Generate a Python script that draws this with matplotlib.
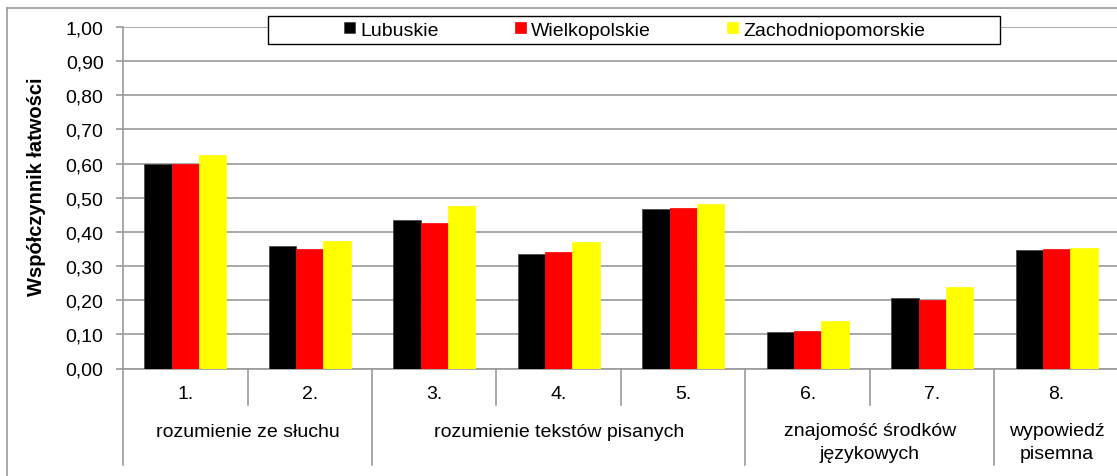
import matplotlib
matplotlib.use("Agg")
import matplotlib.pyplot as plt
import numpy as np
from matplotlib.lines import Line2D
from matplotlib.patches import Rectangle

categories = ["1.", "2.", "3.", "4.", "5.", "6.", "7.", "8."]
lubuskie = [0.60, 0.36, 0.436, 0.336, 0.467, 0.107, 0.207, 0.347]
wielkopolskie = [0.60, 0.351, 0.427, 0.341, 0.471, 0.109, 0.200, 0.351]
zachodniopomorskie = [0.624, 0.372, 0.477, 0.371, 0.482, 0.139, 0.240, 0.354]
series_names = ["Lubuskie", "Wielkopolskie", "Zachodniopomorskie"]
groups = ["rozumienie ze słuchu", "rozumienie tekstów pisanych",
          "znajomość środków\njęzykowych", "wypowiedź\npisemna"]
group_spans = [(0, 2), (2, 5), (5, 7), (7, 8)]
yticks = [0.0, 0.1, 0.2, 0.3, 0.4, 0.5, 0.6, 0.7, 0.8, 0.9, 1.0]
ylabel = "Współczynnik łatwości"

plt.rcParams['font.family'] = ['Liberation Sans', 'DejaVu Sans']
FS = 14

W, H = 1117, 477
fig = plt.figure(figsize=(W / 100, H / 100), dpi=100)
left, right, top, bottom = 123, 1119, 28, 369.5
ax = fig.add_axes([left / W, 1 - bottom / H, (right - left) / W, (bottom - top) / H])

colors = ["#000000", "#FF0000", "#FFFF00"]
data = [lubuskie, wielkopolskie, zachodniopomorskie]
x = np.arange(len(categories))
bw = 0.22
for i, (vals, c, n) in enumerate(zip(data, colors, series_names)):
    ax.bar(x + (i - 1) * bw, vals, width=bw, color=c, label=n,
           edgecolor="#404040" if i == 0 else c, linewidth=0.5, zorder=3)

ax.set_xlim(-0.5, len(categories) - 0.5)
ax.set_ylim(0, 1.0)
ax.set_yticks(yticks)
ax.set_yticklabels([f"{v:.2f}".replace(".", ",") for v in yticks], fontsize=FS)
ax.yaxis.grid(True, color="#9a9a9a", linewidth=1.2, zorder=0)
ax.set_axisbelow(True)
for s in ["top", "right"]:
    ax.spines[s].set_visible(False)
for s in ["left", "bottom"]:
    ax.spines[s].set_color("#9a9a9a")
    ax.spines[s].set_linewidth(1.2)
ax.tick_params(axis="y", length=5, color="#9a9a9a", width=1.2, pad=9)
ax.set_xticks([])

ax.set_ylabel(ylabel, fontsize=14.5, fontweight="bold")
ax.yaxis.set_label_coords(-77 / (right - left), (bottom - 187) / (bottom - top))

# category labels and separators
trans = ax.get_xaxis_transform()
ax_h = bottom - top
def yfrac(px):
    return -(px - bottom) / ax_h

for i, c in enumerate(categories):
    ax.text(i, yfrac(395), c, transform=trans, ha="center", va="center", fontsize=FS)
group_bounds = set()
for a, b in group_spans:
    group_bounds.add(a); group_bounds.add(b)
for b in range(len(categories) + 1):
    x0 = b - 0.5
    yend = 466 if b in group_bounds else 406
    ax.add_line(Line2D([x0, x0], [0, yfrac(yend)], transform=trans, color="#9a9a9a",
                       linewidth=1.2, clip_on=False))
for (a, b), g in zip(group_spans, groups):
    xc = (a + b - 1) / 2
    if "\n" in g:
        ax.text(xc, yfrac(443), g, transform=trans, ha="center", va="center",
                fontsize=FS, linespacing=1.45)
    else:
        ax.text(xc, yfrac(433), g, transform=trans, ha="center", va="center", fontsize=FS)

# legend box and legend
fig.add_artist(Rectangle((268 / W, 1 - 45 / H), (1000 - 268) / W, 28 / H,
                         transform=fig.transFigure, facecolor="white", edgecolor="black",
                         linewidth=1.0, zorder=2))
handles, labels = ax.get_legend_handles_labels()
leg = fig.legend(handles, labels, loc="center left", bbox_to_anchor=(344 / W, 1 - 31 / H),
                 bbox_transform=fig.transFigure, ncol=3, frameon=False,
                 prop={"size": FS}, handlelength=0.55, handleheight=0.55,
                 handletextpad=0.3, columnspacing=3.9, borderpad=0, borderaxespad=0)
leg.set_zorder(3)

# outer chart border
fig.add_artist(Line2D([7 / W, 7 / W], [1 - 9 / H, 0], transform=fig.transFigure, color="#9a9a9a", linewidth=1.2))
fig.add_artist(Line2D([7 / W, 1], [1 - 9 / H, 1 - 9 / H], transform=fig.transFigure, color="#9a9a9a", linewidth=1.2))

fig.savefig("out.png", dpi=100)
